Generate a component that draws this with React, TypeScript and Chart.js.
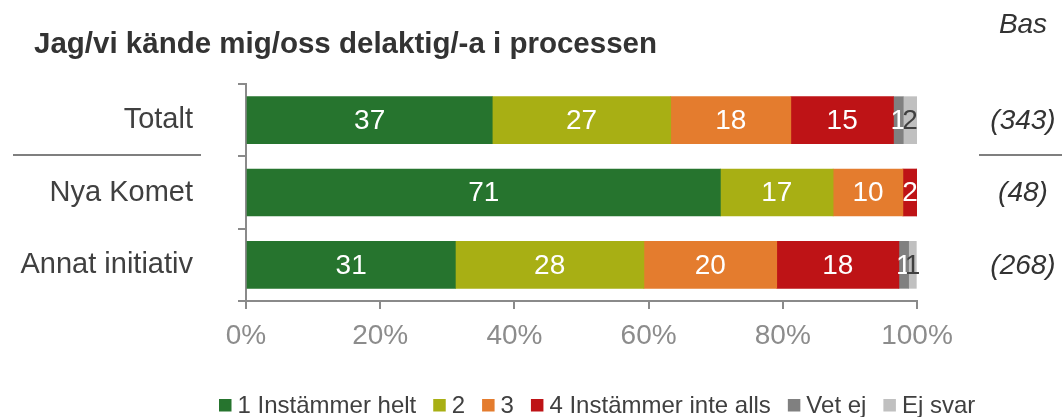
import React, { useEffect, useRef } from "react";
import { Chart, registerables } from "chart.js";

Chart.register(...registerables);

const title = "Jag/vi kände mig/oss delaktig/-a i processen";
const baseHeader = "Bas";
const categories = ["Totalt", "Nya Komet", "Annat initiativ"];
const bases = ["(343)", "(48)", "(268)"];
const seriesNames = ["1 Instämmer helt", "2", "3", "4 Instämmer inte alls", "Vet ej", "Ej svar"];
const instammerHelt = [36.7, 70.7, 31.2];
const tva = [26.6, 16.8, 28.1];
const tre = [17.9, 10.4, 19.8];
const instammerInteAlls = [15.3, 2.1, 18.2];
const vetEj = [1.45, 0, 1.45];
const ejSvar = [2.05, 0, 1.15];
const xTicks = [0, 20, 40, 60, 80, 100];

const seriesValues = [instammerHelt, tva, tre, instammerInteAlls, vetEj, ejSvar];
const colors = ["#26742E", "#A8AF14", "#E47C2E", "#BE1316", "#808080", "#C0C0C0"];
const labelColors = ["#ffffff", "#ffffff", "#ffffff", "#ffffff", "#ffffff", "#404040"];

const SANS = "'Liberation Sans', Arial, sans-serif";
const AXIS = "#8a8a8a";

const overlay = {
  id: "overlay",
  afterDatasetsDraw(chart: any) {
    const ctx = chart.ctx;
    ctx.save();
    ctx.font = `28px ${SANS}`;
    ctx.textAlign = "center";
    ctx.textBaseline = "middle";
    chart.data.datasets.forEach((ds: any, di: number) => {
      const meta = chart.getDatasetMeta(di);
      meta.data.forEach((bar: any, i: number) => {
        const v = ds.data[i];
        if (!v) return;
        const p = bar.getProps(["x", "y", "base"], true);
        ctx.fillStyle = labelColors[di];
        ctx.fillText(String(Math.round(v)), (p.x + p.base) / 2, p.y + 1);
      });
    });
    ctx.restore();
  },
  afterDraw(chart: any) {
    const ctx = chart.ctx;
    const yScale = chart.scales.y;
    ctx.save();
    // title
    ctx.fillStyle = "#333333";
    ctx.font = `bold 29.5px ${SANS}`;
    ctx.textAlign = "left";
    ctx.textBaseline = "alphabetic";
    ctx.fillText(title, 34, 53);
    // Bas header
    ctx.font = `italic 28px ${SANS}`;
    ctx.textAlign = "center";
    ctx.fillStyle = "#333333";
    ctx.fillText(baseHeader, 1023, 33);
    // bases
    ctx.textBaseline = "middle";
    bases.forEach((b, i) => {
      ctx.fillText(b, 1023, yScale.getPixelForValue(i) + 1);
    });
    // separators
    const sepY = Math.round((yScale.getPixelForValue(0) + yScale.getPixelForValue(1)) / 2) - 1;
    ctx.strokeStyle = "#7f7f7f";
    ctx.lineWidth = 2;
    ctx.beginPath();
    ctx.moveTo(13, sepY);
    ctx.lineTo(201, sepY);
    ctx.moveTo(979, sepY);
    ctx.lineTo(1062, sepY);
    ctx.stroke();
    // legend
    ctx.font = `24px ${SANS}`;
    ctx.textAlign = "left";
    ctx.textBaseline = "middle";
    const box = 12.5;
    const gapText = 6;
    const gapItem = 17;
    const widths = seriesNames.map((n) => box + gapText + ctx.measureText(n).width);
    let lx = 219;
    const ly = 405;
    seriesNames.forEach((n, i) => {
      ctx.fillStyle = colors[i];
      ctx.fillRect(lx, ly - 6, box, box);
      ctx.fillStyle = "#404040";
      ctx.fillText(n, lx + box + gapText, ly + 1);
      lx += widths[i] + gapItem;
    });
    ctx.restore();
  },
};

export default function App() {
  const ref = useRef<HTMLCanvasElement | null>(null);
  useEffect(() => {
    if (!ref.current) return;
    const chart = new Chart(ref.current, {
      type: "bar",
      data: {
        labels: categories,
        datasets: seriesNames.map((name, i) => ({
          label: name,
          data: seriesValues[i],
          backgroundColor: colors[i],
          borderWidth: 0,
          barThickness: 47,
        })),
      },
      options: {
        indexAxis: "y",
        responsive: false,
        animation: false,
        layout: { padding: { top: 84, right: 145, left: 0, bottom: 0 } },
        plugins: { legend: { display: false }, tooltip: { enabled: false }, title: { display: false } },
        scales: {
          x: {
            type: "linear",
            stacked: true,
            min: 0,
            max: 100,
            afterBuildTicks: (s: any) => {
              s.ticks = xTicks.map((v) => ({ value: v }));
            },
            afterFit: (s: any) => {
              s.height = 116;
            },
            ticks: {
              callback: (v: any) => `${v}%`,
              color: "#8c8c8c",
              font: { family: SANS, size: 28 },
              padding: 10,
              maxRotation: 0,
            },
            grid: { display: true, drawOnChartArea: false, drawTicks: true, tickLength: 8, color: AXIS, lineWidth: 2 },
            border: { display: true, color: AXIS, width: 2 },
          },
          y: {
            type: "category",
            stacked: true,
            offset: true,
            afterFit: (s: any) => {
              s.width = 246;
            },
            ticks: { color: "#404040", font: { family: SANS, size: 29 }, padding: 45 },
            grid: { display: true, offset: true, drawOnChartArea: false, drawTicks: true, tickLength: 8, color: AXIS, lineWidth: 2 },
            border: { display: true, color: AXIS, width: 2 },
          },
        },
      },
      plugins: [overlay],
    } as any);
    return () => chart.destroy();
  }, []);
  return (
    <div style={{ position: "absolute", left: 0, top: 0, width: 1062, height: 417, background: "#ffffff" }}>
      <canvas ref={ref} width={1062} height={417} style={{ display: "block" }} />
    </div>
  );
}
